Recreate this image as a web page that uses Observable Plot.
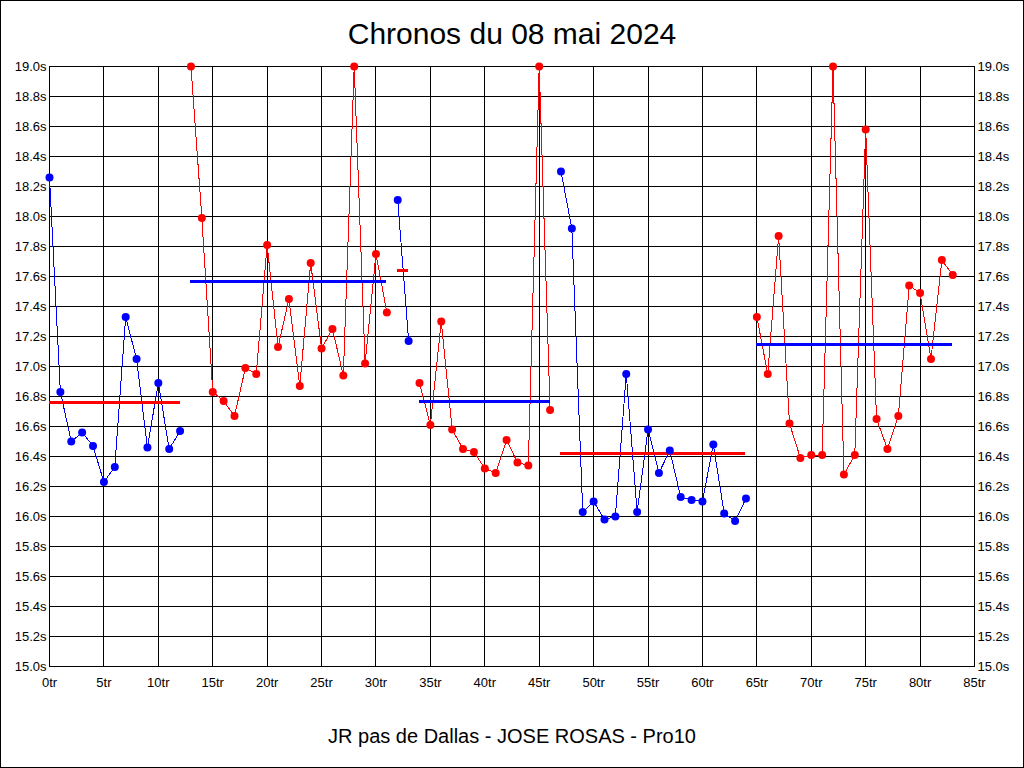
<!DOCTYPE html>
<html><head><meta charset="utf-8">
<script src="https://cdn.jsdelivr.net/npm/d3@7"></script>
<script src="https://cdn.jsdelivr.net/npm/@observablehq/plot@0.6"></script>
<style>
body{margin:0;background:#fff}
#chart svg{display:block;outline:1px solid #000;outline-offset:-1px}
</style>
</head><body><div id="chart"></div>
<script>
const titleText = "Chronos du 08 mai 2024";
const footerText = "JR pas de Dallas - JOSE ROSAS - Pro10";
const lapTimes = [
  18.26, 16.83, 16.50, 16.56, 16.47, 16.23, 16.33, 17.33, 17.05, 16.46,
  16.89, 16.45, 16.57, 19.00, 17.99, 16.83, 16.77, 16.67, 16.99, 16.95,
  17.81, 17.13, 17.45, 16.87, 17.69, 17.12, 17.25, 16.94, 19.00, 17.02,
  17.75, 17.36, 18.11, 17.17, 16.89, 16.61, 17.30, 16.58, 16.45, 16.43,
  16.32, 16.29, 16.51, 16.36, 16.34, 19.00, 16.71, 18.30, 17.92, 16.03,
  16.10, 15.98, 16.00, 16.95, 16.03, 16.58, 16.29, 16.44, 16.13, 16.11,
  16.10, 16.48, 16.02, 15.97, 16.12, 17.33, 16.95, 17.87, 16.62, 16.39,
  16.41, 16.41, 19.00, 16.28, 16.41, 18.58, 16.65, 16.45, 16.67, 17.54,
  17.49, 17.05, 17.71, 17.61
];
const stintFirstLap = [0, 13, 32, 34, 47, 65];
const stintLastLap  = [12, 31, 33, 46, 64, 83];
const stintAverage  = [16.76, 17.57, 17.64, 16.77, 16.42, 17.15];
const xTicks = [0,5,10,15,20,25,30,35,40,45,50,55,60,65,70,75,80,85];
const yTicks = [15.0,15.2,15.4,15.6,15.8,16.0,16.2,16.4,16.6,16.8,17.0,17.2,17.4,17.6,17.8,18.0,18.2,18.4,18.6,18.8,19.0];

const BLUE = "#0000ff", RED = "#ff0000";
const stintOf = i => stintFirstLap.findIndex((f, k) => i >= f && i <= stintLastLap[k]);
const rows = lapTimes.map((t, i) => {
  const s = stintOf(i);
  return {lap: i, t, stint: s, color: s % 2 === 0 ? BLUE : RED};
});
const avgRows = stintAverage.map((a, k) => ({
  avg: a, first: stintFirstLap[k], last: stintLastLap[k], color: k % 2 === 0 ? RED : BLUE
}));

const chart = Plot.plot({
  width: 1024, height: 768,
  marginLeft: 49, marginRight: 50, marginTop: 66, marginBottom: 102,
  style: {fontFamily: "'Liberation Sans', Arial, sans-serif", fontSize: "13px", background: "white", color: "black"},
  x: {domain: [0, 85], ticks: xTicks, label: null},
  y: {domain: [15, 19], ticks: yTicks, label: null},
  color: {type: "identity"},
  marks: [
    Plot.gridX(xTicks, {stroke: "black", strokeOpacity: 1, strokeWidth: 1, shapeRendering: "crispEdges"}),
    Plot.gridY(yTicks, {stroke: "black", strokeOpacity: 1, strokeWidth: 1, shapeRendering: "crispEdges"}),
    Plot.frame({stroke: "black", shapeRendering: "crispEdges"}),
    Plot.line(rows, {x: "lap", y: "t", z: "stint", stroke: "color", strokeWidth: 1, shapeRendering: "crispEdges"}),
    Plot.ruleY(avgRows, {y: "avg", x1: "first", x2: "last", stroke: "color", strokeWidth: 3, shapeRendering: "crispEdges"}),
    Plot.dot(rows, {x: "lap", y: "t", r: 4, fill: "color", stroke: null}),
    Plot.axisX(xTicks, {anchor: "bottom", tickSize: 0, tickPadding: 11, tickFormat: d => d + "tr", fontSize: 13, label: null}),
    Plot.axisY(yTicks, {anchor: "left", tickSize: 0, tickPadding: 3, tickFormat: d => d.toFixed(1) + "s", fontSize: 13, label: null}),
    Plot.axisY(yTicks, {anchor: "right", tickSize: 0, tickPadding: 3, tickFormat: d => d.toFixed(1) + "s", fontSize: 13, label: null}),
    Plot.text([titleText], {text: d => d, frameAnchor: "top", lineAnchor: "middle", dy: -32, fontSize: 30, fill: "black"}),
    Plot.text([footerText], {text: d => d, frameAnchor: "bottom", lineAnchor: "middle", dy: 70, fontSize: 20, fill: "black"})
  ]
});
document.getElementById("chart").appendChild(chart);
</script>
</body></html>
